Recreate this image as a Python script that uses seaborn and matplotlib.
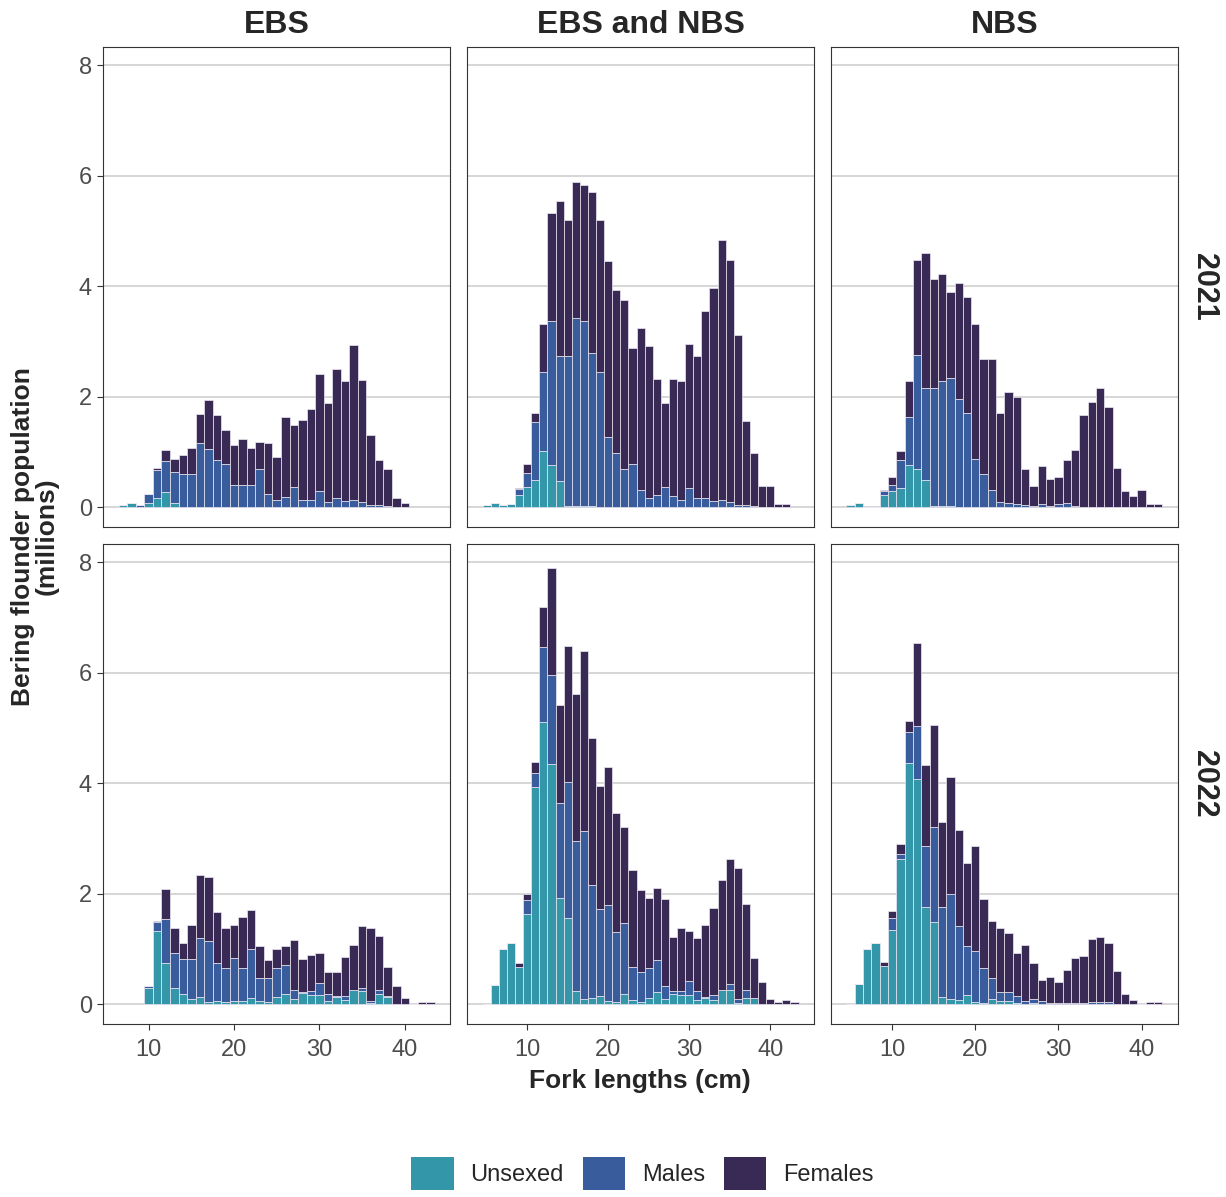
import numpy as np
import pandas as pd
import seaborn as sns
import matplotlib.pyplot as plt
from matplotlib.patches import Patch

sns.set_theme(style="white")
plt.rcParams["font.family"] = ["Liberation Sans", "DejaVu Sans"]

sexes = ["Unsexed", "Males", "Females"]
palette = {"Unsexed": "#3497A9", "Males": "#395D9C", "Females": "#382A54"}
regions = ["EBS", "EBS and NBS", "NBS"]
years = [2021, 2022]

# population (millions) by fork length (cm)
ebs_2021_len = list(range(7, 41))
ebs_2021_unsexed = [0.04, 0.07, 0, 0.07, 0.16, 0.28, 0.07, 0, 0, 0, 0, 0, 0, 0, 0, 0, 0,
                    0, 0, 0, 0, 0, 0, 0, 0, 0, 0, 0, 0, 0, 0, 0, 0, 0]
ebs_2021_males = [0, 0, 0.04, 0.17, 0.52, 0.56, 0.57, 0.60, 0.60, 1.17, 1.05, 0.86, 0.78,
                  0.40, 0.40, 0.40, 0.70, 0.24, 0.13, 0.19, 0.37, 0.14, 0.13, 0.30, 0.10,
                  0.16, 0.11, 0.14, 0.10, 0.04, 0.04, 0.02, 0, 0]
ebs_2021_females = [0, 0, 0, 0, 0.03, 0.19, 0.23, 0.35, 0.48, 0.51, 0.89, 0.81, 0.62,
                    0.72, 0.84, 0.68, 0.49, 0.93, 0.78, 1.45, 1.12, 1.44, 1.64, 2.12, 1.79,
                    2.35, 2.17, 2.79, 2.21, 1.26, 0.82, 0.67, 0.17, 0.07]

ebs_2022_len = list(range(10, 44))
ebs_2022_unsexed = [0.30, 1.32, 0.75, 0.29, 0.18, 0.10, 0.13, 0.04, 0.05, 0.04, 0.05, 0.05,
                    0.11, 0.05, 0.04, 0.13, 0.19, 0.09, 0.20, 0.16, 0.16, 0.06, 0.13, 0.08,
                    0.25, 0.23, 0.02, 0.19, 0.13, 0, 0, 0, 0, 0]
ebs_2022_males = [0.02, 0.16, 0.79, 0.63, 0.63, 0.72, 1.07, 1.11, 0.70, 0.62, 0.78, 0.61,
                  0.89, 0.43, 0.43, 0.52, 0.51, 0.16, 0.02, 0.07, 0.22, 0.13, 0.02, 0.07,
                  0.01, 0.07, 0.03, 0.06, 0.02, 0, 0, 0, 0, 0]
ebs_2022_females = [0.01, 0.02, 0.54, 0.46, 0.30, 0.61, 1.13, 1.16, 0.92, 0.72, 0.61, 0.91,
                    0.71, 0.58, 0.33, 0.35, 0.35, 0.91, 0.59, 0.66, 0.55, 0.39, 0.43, 0.71,
                    0.81, 1.11, 1.32, 0.98, 0.52, 0.33, 0.11, 0, 0.04, 0.03]

both_2021_len = list(range(5, 43))
both_2021_unsexed = [0.04, 0.07, 0.04, 0.06, 0.23, 0.36, 0.49, 1.02, 0.76, 0.48, 0.02, 0.02,
                     0.02, 0.02, 0.01, 0.01, 0, 0, 0, 0, 0, 0, 0, 0, 0, 0, 0, 0, 0, 0, 0, 0,
                     0, 0, 0, 0, 0, 0]
both_2021_males = [0, 0, 0, 0, 0.10, 0.26, 1.05, 1.43, 2.62, 2.26, 2.71, 3.40, 3.36, 2.77,
                   2.44, 1.26, 0.99, 0.70, 0.79, 0.31, 0.17, 0.22, 0.37, 0.20, 0.13, 0.34,
                   0.17, 0.16, 0.11, 0.14, 0.10, 0.04, 0.04, 0.02, 0, 0, 0, 0]
both_2021_females = [0, 0, 0, 0, 0.01, 0.16, 0.16, 0.86, 1.95, 2.80, 2.47, 2.47, 2.45, 2.92,
                     2.75, 3.18, 2.94, 3.06, 2.09, 2.93, 2.74, 2.11, 1.51, 2.12, 2.16, 2.61,
                     2.56, 3.39, 3.85, 4.69, 4.37, 3.07, 1.53, 0.97, 0.39, 0.39, 0.06, 0.06]

both_2022_len = list(range(5, 44))
both_2022_unsexed = [0, 0.34, 0.99, 1.11, 0.68, 1.64, 3.93, 5.10, 4.35, 1.92, 1.56, 0.24,
                     0.10, 0.11, 0.15, 0.06, 0.04, 0.19, 0.07, 0.04, 0.11, 0.22, 0.09, 0.19,
                     0.16, 0.16, 0.07, 0.11, 0.08, 0.25, 0.25, 0.02, 0.12, 0.12, 0, 0, 0, 0, 0]
both_2022_males = [0, 0, 0, 0, 0, 0.24, 0.25, 1.36, 1.60, 1.72, 2.46, 2.71, 3.03, 2.05, 1.57,
                   1.73, 1.26, 1.28, 0.61, 0.55, 0.55, 0.57, 0.23, 0.05, 0.08, 0.25, 0.16,
                   0.02, 0.08, 0.01, 0.11, 0.08, 0.13, 0, 0, 0, 0, 0, 0]
both_2022_females = [0, 0, 0, 0, 0.06, 0.12, 0.21, 0.73, 1.95, 1.78, 2.46, 2.67, 3.27, 2.66,
                     2.22, 2.51, 2.16, 1.73, 1.75, 1.48, 1.27, 1.32, 1.58, 0.98, 1.14, 0.91,
                     0.96, 1.30, 1.58, 1.98, 2.27, 2.37, 1.57, 0.72, 0.40, 0.10, 0.04, 0.07,
                     0.04]

nbs_2021_len = list(range(5, 43))
nbs_2021_unsexed = [0.04, 0.07, 0, 0, 0.23, 0.30, 0.34, 0.76, 0.70, 0.49, 0.03, 0.03, 0.03,
                    0.01, 0.01, 0, 0, 0, 0, 0, 0, 0, 0, 0, 0, 0, 0, 0, 0, 0, 0, 0, 0, 0, 0,
                    0, 0, 0]
nbs_2021_males = [0, 0, 0, 0, 0.07, 0.10, 0.52, 0.87, 2.06, 1.66, 2.12, 2.26, 2.31, 1.95,
                  1.69, 0.87, 0.60, 0.31, 0.10, 0.07, 0.06, 0.04, 0.03, 0.05, 0.03, 0.05,
                  0.07, 0.02, 0.01, 0.01, 0.01, 0, 0, 0, 0, 0, 0, 0]
nbs_2021_females = [0, 0, 0, 0, 0.01, 0.15, 0.15, 0.66, 1.72, 2.45, 1.99, 1.94, 1.55, 2.09,
                    2.10, 2.45, 2.09, 2.38, 1.60, 2.01, 1.94, 0.65, 0.36, 0.70, 0.49, 0.49,
                    0.78, 1.02, 1.66, 1.90, 2.15, 1.82, 0.71, 0.30, 0.20, 0.32, 0.06, 0.06]

nbs_2022_len = list(range(5, 43))
nbs_2022_unsexed = [0, 0.36, 0.99, 1.11, 0.69, 1.35, 2.62, 4.36, 4.08, 1.76, 1.48, 0.13,
                    0.10, 0.07, 0.16, 0.04, 0.02, 0.10, 0.05, 0.05, 0.02, 0, 0.02, 0, 0, 0,
                    0, 0, 0, 0, 0, 0, 0, 0, 0, 0, 0, 0]
nbs_2022_males = [0, 0, 0, 0, 0, 0.21, 0.10, 0.57, 0.95, 1.10, 1.72, 1.63, 1.90, 1.35, 0.90,
                  0.93, 0.64, 0.38, 0.17, 0.17, 0.12, 0.05, 0.08, 0.06, 0.02, 0.02, 0.02,
                  0.02, 0.02, 0.04, 0.04, 0.03, 0, 0, 0, 0, 0, 0]
nbs_2022_females = [0, 0, 0, 0, 0.07, 0.13, 0.18, 0.19, 1.50, 1.46, 1.85, 1.53, 2.11, 1.74,
                    1.50, 1.90, 1.24, 1.03, 1.16, 1.07, 0.79, 1.02, 0.65, 0.37, 0.48, 0.38,
                    0.59, 0.82, 0.86, 1.14, 1.18, 1.07, 0.60, 0.18, 0.08, 0, 0.04, 0.04]

panels = {
    ("EBS", 2021): (ebs_2021_len, ebs_2021_unsexed, ebs_2021_males, ebs_2021_females),
    ("EBS", 2022): (ebs_2022_len, ebs_2022_unsexed, ebs_2022_males, ebs_2022_females),
    ("EBS and NBS", 2021): (both_2021_len, both_2021_unsexed, both_2021_males, both_2021_females),
    ("EBS and NBS", 2022): (both_2022_len, both_2022_unsexed, both_2022_males, both_2022_females),
    ("NBS", 2021): (nbs_2021_len, nbs_2021_unsexed, nbs_2021_males, nbs_2021_females),
    ("NBS", 2022): (nbs_2022_len, nbs_2022_unsexed, nbs_2022_males, nbs_2022_females),
}

rows = []
for (region, year), (lens, u, m, f) in panels.items():
    for sex, vals in zip(sexes, (u, m, f)):
        for length, val in zip(lens, vals):
            rows.append({"region": region, "year": year, "sex": sex,
                         "length": length, "pop": val})
df = pd.DataFrame(rows)

fig, axes = plt.subplots(2, 3, figsize=(12.26, 11.97), dpi=100, sharey=True)
fig.subplots_adjust(left=0.084, right=0.961, top=0.9607, bottom=0.1445,
                    wspace=0.047, hspace=0.035)

for j, region in enumerate(regions):
    col = df[df["region"] == region]
    lo, hi = col["length"].min() - 0.5, col["length"].max() + 0.5
    pad = (hi - lo) * 0.05
    for i, year in enumerate(years):
        ax = axes[i, j]
        sub = col[col["year"] == year]
        sns.histplot(data=sub, x="length", weights="pop", hue="sex",
                     hue_order=["Females", "Males", "Unsexed"], palette=palette,
                     multiple="stack", discrete=True, shrink=1, alpha=1,
                     edgecolor="#ECE8F2", linewidth=0.5, legend=False, ax=ax)
        ax.set_xlim(lo - pad, hi + pad)
        ax.set_ylim(-0.36, 8.33)
        ax.set_yticks([0, 2, 4, 6, 8])
        ax.set_xticks([10, 20, 30, 40])
        ax.set_xlabel("")
        ax.set_ylabel("")
        ax.grid(True, axis="y", color="#D0D0D0", linewidth=1.2)
        ax.grid(False, axis="x")
        ax.set_axisbelow(True)
        for s in ax.spines.values():
            s.set_color("#333333")
            s.set_linewidth(0.8)
        ax.tick_params(axis="both", labelsize=17, labelcolor="#4D4D4D",
                       color="#333333", length=4, width=0.8, pad=4,
                       bottom=(i == 1), labelbottom=(i == 1),
                       left=(j == 0), labelleft=(j == 0))
        ax.tick_params(axis="x", pad=7)
        if i == 0:
            ax.set_title(region, fontsize=23, fontweight="bold", pad=10)
        if j == 2:
            ax.text(1.03, 0.5, str(year), transform=ax.transAxes, rotation=-90,
                    ha="left", va="center", fontsize=22, fontweight="bold")

fig.text(0.0285, 0.552, "Bering flounder population\n(millions)", rotation=90,
         ha="center", va="center", fontsize=19, fontweight="bold", linespacing=1.0)
fig.text(0.522, 0.097, "Fork lengths (cm)", ha="center", va="center",
         fontsize=19, fontweight="bold")

handles = [Patch(facecolor=palette[s], edgecolor="none") for s in sexes]
fig.legend(handles, sexes, loc="lower center", bbox_to_anchor=(0.524, -0.012),
           ncol=3, frameon=False, fontsize=17, handlelength=1.8, handleheight=1.8,
           handletextpad=0.7, columnspacing=0.8)

fig.savefig("out.png", dpi=100)
